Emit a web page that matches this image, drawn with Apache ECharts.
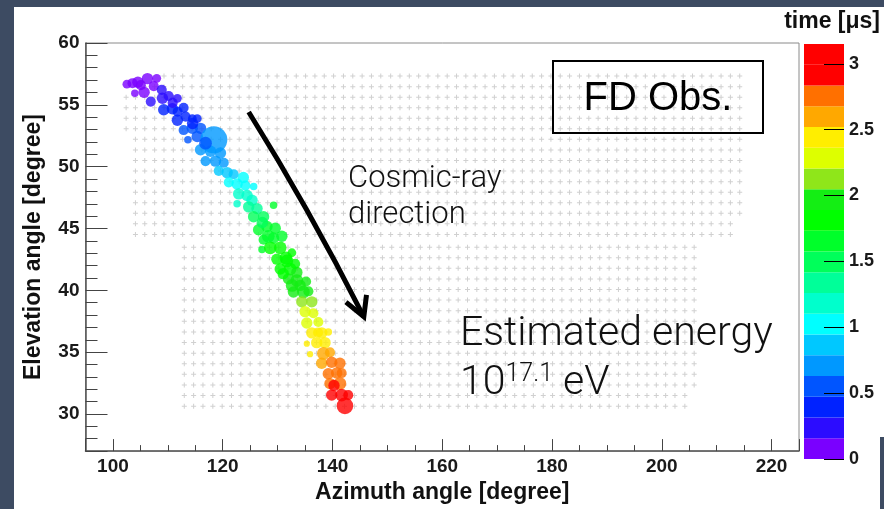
<!DOCTYPE html>
<html>
<head>
<meta charset="utf-8">
<script src="https://cdn.jsdelivr.net/npm/echarts@6/dist/echarts.min.js"></script>
<style>
html, body { margin: 0; padding: 0; width: 884px; height: 509px; background: #3d4b62; overflow: hidden; }
#slide { position: absolute; left: 14px; top: 7px; width: 870px; height: 502px; background: #fff; }
#edge { position: absolute; left: 880px; top: 437px; width: 4px; height: 72px; background: #3d4b62; }
</style>
</head>
<body>
<div id="slide"></div>
<div id="edge"></div>
<script>
// FD hits: azimuth, elevation [deg], arrival time [us], signal (dot size)
var hitAz = [102.54, 103.57, 104.54, 106.29, 107.98, 103.99, 105.68, 107.44, 108.89, 106.89,
    109.02, 110.16, 111.74, 109.25, 110.83, 111.79, 112.88, 111.74, 113.24, 114.46,
    115.36, 112.88, 114.46, 115.96, 113.66, 115.36, 118.38, 115.96, 117.78, 116.87,
    118.68, 120.19, 119.28, 120.81, 122.00, 121.10, 122.62, 124.13, 125.63, 122.91,
    124.44, 125.34, 122.62, 124.73, 126.25, 129.26, 125.63, 127.45, 126.54, 128.06,
    129.57, 130.78, 127.45, 129.26, 127.16, 128.66, 130.48, 132.60, 129.88, 131.69,
    130.48, 132.29, 133.51, 131.98, 133.51, 134.10, 132.89, 134.70, 135.61, 134.41,
    136.23, 135.01, 136.52, 135.32, 137.42, 136.23, 138.04, 139.24, 135.32, 137.13,
    138.64, 135.92, 138.33, 139.55, 138.04, 139.86, 141.36, 139.24, 140.76, 141.67,
    139.55, 141.36, 139.86, 141.67, 142.87, 142.27,
    128.30, 131.52, 133.20, 131.02, 132.65, 135.19, 123.76, 116.87, 119.59, 105.08,
    110.88, 114.51, 137.37, 140.27, 127.21];
var hitEl = [56.67, 56.75, 56.83, 57.12, 57.14, 55.93, 56.01, 56.51, 56.21, 55.26,
    55.53, 55.71, 55.53, 54.60, 54.68, 54.44, 54.76, 53.75, 54.05, 53.89,
    53.89, 52.96, 53.10, 53.10, 52.17, 52.44, 52.17, 51.37, 51.25, 50.45,
    50.45, 50.32, 49.66, 49.52, 49.39, 48.73, 48.60, 48.47, 48.39, 47.80,
    47.67, 47.28, 47.01, 46.75, 46.61, 46.88, 45.95, 45.95, 44.90, 45.16,
    45.02, 44.37, 44.10, 44.23, 43.31, 43.44, 43.44, 43.04, 42.52, 42.38,
    41.72, 41.72, 41.45, 40.93, 40.79, 40.40, 39.87, 39.87, 39.92, 39.07,
    39.07, 38.28, 38.15, 37.36, 37.44, 36.56, 36.56, 36.64, 35.69, 35.77,
    35.77, 34.84, 34.90, 34.98, 34.10, 34.18, 34.10, 33.25, 33.31, 33.31,
    32.46, 32.46, 31.53, 31.53, 31.53, 30.66,
    44.37, 42.62, 42.14, 41.35, 40.40, 40.71, 49.13, 51.90, 51.11, 56.59,
    55.16, 53.49, 36.59, 32.30, 45.48];
var hitTime = [0.05, 0.05, 0.08, 0.10, 0.12, 0.10, 0.12, 0.13, 0.20, 0.20,
    0.22, 0.25, 0.28, 0.35, 0.36, 0.38, 0.40, 0.42, 0.44, 0.45,
    0.46, 0.50, 0.52, 0.55, 0.55, 0.60, 0.70, 0.65, 0.70, 0.75,
    0.75, 0.78, 0.82, 0.85, 0.90, 0.95, 1.00, 1.02, 1.05, 1.12,
    1.15, 1.20, 1.22, 1.30, 1.35, 1.70, 1.45, 1.50, 1.60, 1.62,
    1.65, 1.70, 1.68, 1.72, 1.70, 1.75, 1.78, 1.80, 1.80, 1.82,
    1.85, 1.88, 1.90, 1.92, 1.95, 1.98, 2.00, 2.02, 2.03, 2.10,
    2.12, 2.25, 2.28, 2.32, 2.35, 2.40, 2.42, 2.42, 2.45, 2.45,
    2.48, 2.48, 2.58, 2.60, 2.65, 2.70, 2.72, 2.75, 2.78, 2.80,
    2.82, 2.83, 2.90, 2.95, 3.00, 3.05,
    1.70, 1.82, 1.85, 1.87, 1.95, 1.96, 0.95, 0.62, 0.72, 0.08,
    0.30, 0.47, 2.42, 2.85, 1.55];
var hitSignal = [6, 7, 8, 8, 6, 5, 8, 7, 7, 7,
    8, 7, 6, 8, 8, 7, 7, 8, 7, 6,
    6, 7, 8, 8, 5, 8, 20, 8, 8, 7,
    8, 7, 7, 8, 7, 7, 8, 7, 5, 8,
    8, 8, 5, 8, 8, 5, 8, 8, 8, 8,
    8, 8, 7, 8, 5, 9, 9, 6, 8, 9,
    8, 9, 8, 8, 9, 8, 8, 9, 7, 8,
    8, 8, 7, 8, 7, 8, 8, 5, 4, 8,
    8, 4, 9, 7, 8, 8, 8, 8, 8, 7,
    8, 9, 8, 9, 7, 12,
    9, 9, 7, 8, 9, 7, 8, 9, 8, 7,
    7, 8, 7, 8, 8];

// PMT pixel directions of the cameras (grey crosses)
var upperRowEl = [57.33, 56.47, 55.62, 54.76, 53.91, 53.06, 52.21, 51.35, 50.50, 49.64, 48.79, 47.94, 47.09, 46.23, 45.38, 44.52];
var upperRowFrom = [109.0, 105.5, 102.3, 102.3, 102.3, 102.3, 104.0, 104.0, 104.0, 104.0, 104.0, 104.0, 104.0, 104.0, 104.0, 104.0];
var upperRowTo = [214.5, 214.5, 214.5, 214.5, 214.5, 214.5, 214.5, 214.5, 214.5, 214.5, 214.5, 214.5, 214.5, 214.5, 213.0, 213.0];
var upperCols = [102.4, 104.1, 105.8, 107.6, 109.3, 111.0, 112.7, 114.4, 116.2, 117.9, 119.6, 121.3, 123.0, 124.8, 126.5, 128.2,
    129.9, 131.6, 133.4, 135.1, 136.8, 138.5, 140.2, 142.0, 143.7, 145.4, 147.1, 148.8, 150.6, 152.3, 154.0, 155.7,
    157.4, 159.2, 160.9, 162.6, 164.3, 166.0, 167.8, 169.5, 171.2, 172.9, 174.6, 176.4, 178.1, 179.8, 181.5, 183.2,
    185.0, 186.7, 188.4, 190.1, 191.8, 193.6, 195.3, 197.0, 198.7, 200.4, 202.2, 203.9, 205.6, 207.3, 209.0, 210.8,
    212.5, 214.2];
var lowerRowEl = [43.49, 42.63, 41.78, 40.92, 40.06, 39.21, 38.35, 37.49, 36.63, 35.78, 34.92, 34.06, 33.21, 32.35, 31.49, 30.63];
var lowerRowFrom = [112.5, 112.5, 112.5, 112.5, 112.5, 112.5, 112.5, 112.5, 112.5, 112.5, 112.5, 112.5, 112.5, 112.5, 112.5, 112.5];
var lowerRowTo = [206.5, 206.5, 206.5, 206.5, 206.5, 206.5, 206.5, 206.5, 206.5, 206.5, 206.5, 206.5, 206.5, 206.5, 205.0, 205.0];
var lowerCols = [113.0, 114.7, 116.4, 118.2, 119.9, 121.6, 123.3, 125.0, 126.8, 128.5, 130.2, 131.9, 133.6, 135.4, 137.1, 138.8,
    140.5, 142.2, 144.0, 145.7, 147.4, 149.1, 150.8, 152.6, 154.3, 156.0, 157.7, 159.4, 161.2, 162.9, 164.6, 166.3,
    168.0, 169.8, 171.5, 173.2, 174.9, 176.6, 178.4, 180.1, 181.8, 183.5, 185.2, 187.0, 188.7, 190.4, 192.1, 193.8,
    195.6, 197.3, 199.0, 200.7, 202.4, 204.2, 205.9];

// colour palette of the time scale
var timeEdges = [0, 0.1575, 0.315, 0.4725, 0.63, 0.7875, 0.945, 1.1025, 1.26, 1.4175, 1.575,
    1.7325, 1.89, 2.0475, 2.205, 2.3625, 2.52, 2.6775, 2.835, 2.9925, 3.15];
var timeColors = ['#7a00ff', '#2c0cff', '#0022ff', '#0055ff', '#0098ff', '#00c8ff', '#00ffff', '#00ffcc', '#00ff99', '#00ff5a',
    '#00ff2a', '#00ff00', '#14ee14', '#8fe61a', '#ddff00', '#ffee00', '#ffa800', '#ff7000', '#ff0000', '#ff0000'];
var timeTicks = [0, 0.5, 1, 1.5, 2, 2.5, 3];

// arrow "cosmic-ray direction"
var arrowShaft = [[124.73, 54.42], [135.19, 46.59], [145.71, 37.86]];
var arrowHead = [[142.45, 39.05], [145.71, 37.86], [146.2, 39.63]];

var boldFont = 'Liberation Sans, Arial, Helvetica, sans-serif';
var lightFont = 'Roboto, Liberation Sans, Arial, sans-serif';
var plainFont = 'Liberation Sans, Arial, Helvetica, sans-serif';

var pixelData = [];
function addCamera(rows, from, to, cols) {
    for (var i = 0; i < rows.length; i++) {
        for (var j = 0; j < cols.length; j++) {
            if (cols[j] >= from[i] && cols[j] <= to[i]) {
                pixelData.push([cols[j], rows[i]]);
            }
        }
    }
}
addCamera(upperRowEl, upperRowFrom, upperRowTo, upperCols);
addCamera(lowerRowEl, lowerRowFrom, lowerRowTo, lowerCols);

var hitData = [];
for (var i = 0; i < hitAz.length; i++) {
    hitData.push([hitAz[i], hitEl[i], hitTime[i], hitSignal[i]]);
}

var pieces = [];
var colorBarSeries = [];
for (var k = 0; k < timeColors.length; k++) {
    pieces.push({gte: timeEdges[k], lt: timeEdges[k + 1], color: timeColors[k]});
    colorBarSeries.push({
        type: 'bar',
        xAxisIndex: 1,
        yAxisIndex: 1,
        stack: 'palette',
        barWidth: '100%',
        silent: true,
        itemStyle: {color: timeColors[k]},
        data: [+(timeEdges[k + 1] - timeEdges[k]).toFixed(4)]
    });
}

var chart = echarts.init(document.getElementById('slide'), null, {renderer: 'canvas'});

var option = {
    animation: false,
    backgroundColor: '#fff',
    grid: [
        {left: 70, top: 36, width: 715, height: 416, show: true, borderColor: '#8a8a8a', borderWidth: 1},
        {left: 790, top: 37, width: 40, height: 415}
    ],
    xAxis: [{
        type: 'value',
        min: 95,
        max: 225,
        splitNumber: 6,
        name: 'Azimuth angle [degree]',
        nameLocation: 'middle',
        nameGap: 40,
        nameTextStyle: {fontFamily: boldFont, fontWeight: 'bold', fontSize: 23, color: '#111', verticalAlign: 'middle'},
        axisLine: {lineStyle: {color: '#555', width: 1.5}},
        axisTick: {inside: true, length: 12, lineStyle: {color: '#444'}},
        minorTick: {show: true, splitNumber: 4, length: 6, lineStyle: {color: '#444'}},
        splitLine: {show: false},
        axisLabel: {margin: 6, fontFamily: boldFont, fontWeight: 'bold', fontSize: 19, color: '#1a1a1a',
            showMinLabel: false, showMaxLabel: false}
    }, {
        type: 'category',
        gridIndex: 1,
        data: ['t'],
        show: false
    }],
    yAxis: [{
        type: 'value',
        min: 27,
        max: 60,
        splitNumber: 6,
        name: 'Elevation angle [degree]',
        nameLocation: 'middle',
        nameGap: 52,
        nameTextStyle: {fontFamily: boldFont, fontWeight: 'bold', fontSize: 23, color: '#111', verticalAlign: 'middle'},
        axisLine: {show: true, lineStyle: {color: '#555', width: 1.5}},
        axisTick: {show: true, inside: true, length: 22, lineStyle: {color: '#444'}},
        minorTick: {show: true, splitNumber: 5, length: 12, lineStyle: {color: '#444'}},
        splitLine: {show: false},
        axisLabel: {margin: 6, fontFamily: boldFont, fontWeight: 'bold', fontSize: 19, color: '#1a1a1a',
            showMinLabel: false}
    }, {
        type: 'value',
        gridIndex: 1,
        position: 'right',
        min: 0,
        max: 3.15,
        z: 5,
        axisLine: {show: false},
        axisTick: {show: true, inside: true, length: 20, customValues: timeTicks, lineStyle: {color: '#000'}},
        splitLine: {show: false},
        axisLabel: {margin: 5, customValues: timeTicks, fontFamily: boldFont, fontWeight: 'bold', fontSize: 18, color: '#1a1a1a'}
    }],
    visualMap: {
        type: 'piecewise',
        show: false,
        dimension: 2,
        seriesIndex: 1,
        pieces: pieces
    },
    series: [{
        type: 'scatter',
        data: pixelData,
        silent: true,
        z: 1,
        symbol: 'path://M2,0h1v2h2v1h-2v2h-1v-2h-2v-1h2z',
        symbolSize: 5,
        itemStyle: {color: '#c4c4c4'}
    }, {
        type: 'scatter',
        data: hitData,
        silent: true,
        z: 3,
        symbolSize: function (v) { return v[3] * 1.3 + 1; }
    }, {
        type: 'line',
        data: arrowShaft,
        smooth: true,
        symbol: 'none',
        silent: true,
        z: 4,
        lineStyle: {color: '#000', width: 5}
    }, {
        type: 'line',
        data: arrowHead,
        symbol: 'none',
        silent: true,
        z: 4,
        lineStyle: {color: '#000', width: 5, join: 'miter'}
    }].concat(colorBarSeries),
    graphic: [
        {type: 'text', x: 866, y: 15, z: 10,
            style: {text: 'time [\u03bcs]', align: 'right', verticalAlign: 'middle', fill: '#111',
                fontFamily: boldFont, fontWeight: 'bold', fontSize: 23}},
        {type: 'text', x: 334, y: 190, z: 10,
            style: {text: 'Cosmic-ray\ndirection', align: 'left', verticalAlign: 'middle', fill: '#111',
                fontFamily: lightFont, fontWeight: 300, fontSize: 31, lineHeight: 36}},
        {type: 'text', x: 446, y: 328, z: 10,
            style: {text: 'Estimated energy', align: 'left', verticalAlign: 'middle', fill: '#111',
                fontFamily: lightFont, fontWeight: 300, fontSize: 41}},
        {type: 'text', x: 446, y: 377, z: 10,
            style: {text: '{b|10}{s|17.1}{b| eV}', align: 'left', verticalAlign: 'middle', fill: '#111',
                rich: {
                    b: {fontFamily: lightFont, fontWeight: 300, fontSize: 41, lineHeight: 44, fill: '#111'},
                    s: {fontFamily: lightFont, fontWeight: 300, fontSize: 25, verticalAlign: 'top', fill: '#111'}
                }}},
        {type: 'rect', z: 10, shape: {x: 539, y: 54, width: 210, height: 72},
            style: {fill: 'none', stroke: '#000', lineWidth: 2}},
        {type: 'text', x: 644, y: 92, z: 10,
            style: {text: 'FD Obs.', align: 'center', verticalAlign: 'middle', fill: '#000',
                fontFamily: plainFont, fontWeight: 'normal', fontSize: 40}}
    ]
};

chart.setOption(option);
</script>
</body>
</html>
